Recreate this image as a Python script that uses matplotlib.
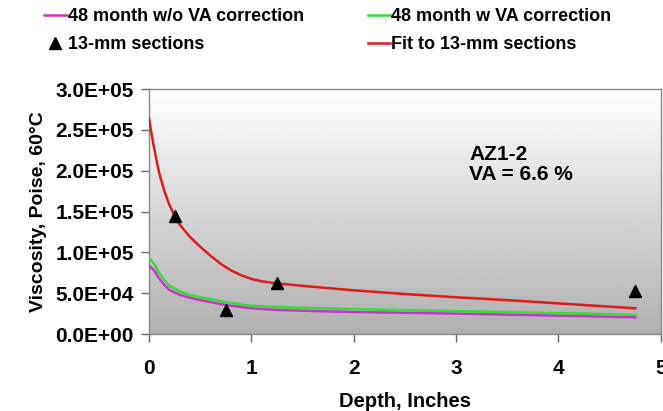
import numpy as np
import matplotlib.pyplot as plt
from matplotlib.lines import Line2D

plt.rcParams['font.family'] = ['Liberation Sans', 'DejaVu Sans']
plt.rcParams['font.weight'] = 'bold'

# 48 month w/o VA correction (magenta)
depth_wo = [0.0, 0.05, 0.1, 0.15, 0.2, 0.3, 0.4, 0.5, 0.75, 1.0, 1.25, 1.5, 2.0, 3.0, 4.0, 4.75]
visc_wo = [84000, 78000, 68000, 60000, 54000, 48000, 44500, 41500, 35500, 31500, 29500, 28500, 27000, 25000, 22500, 20500]

# 48 month w VA correction (green)
depth_w = [0.0, 0.05, 0.1, 0.15, 0.2, 0.3, 0.4, 0.5, 0.75, 1.0, 1.25, 1.5, 2.0, 3.0, 4.0, 4.75]
visc_w = [93000, 86000, 75000, 66000, 59000, 52000, 48000, 45000, 39000, 34500, 33000, 32000, 30500, 28000, 25500, 23500]

# fit to 13-mm sections (red)
depth_fit = [0.0, 0.025, 0.05, 0.075, 0.1, 0.15, 0.2, 0.25, 0.3, 0.4, 0.5, 0.6, 0.7, 0.8,
             0.9, 1.0, 1.1, 1.25, 1.5, 2.0, 2.5, 3.0, 3.5, 4.0, 4.5, 4.75]
visc_fit = [264000, 245000, 228000, 212000, 197000, 175000, 158000, 145000, 134000, 119000,
            107000, 96000, 86000, 78000, 72000, 67500, 64500, 62000, 59000, 53500, 49000,
            45000, 41500, 37500, 33500, 31500]

# 13-mm sections (triangles)
depth_sec = [0.25, 0.75, 1.25, 4.75]
visc_sec = [145000, 30000, 62000, 53000]

fig = plt.figure(figsize=(6.63, 4.11), dpi=100)
ax = fig.add_axes([0.2247, 0.1873, 0.772, 0.596])

# background gradient, white at top to grey at bottom
grad = np.linspace(1.0, 0.69, 256).reshape(-1, 1)
ax.imshow(grad, cmap='gray', vmin=0, vmax=1, aspect='auto',
          extent=[0, 5, 0, 300000], origin='upper', zorder=0)

ax.plot(depth_wo, visc_wo, color='#cc33cc', lw=1.8, zorder=3)
ax.plot(depth_w, visc_w, color='#33dd33', lw=1.8, zorder=3)
ax.plot(depth_fit, visc_fit, color='#e31a1a', lw=1.8, zorder=4)
ax.plot(depth_sec, visc_sec, '^', color='black', ms=9, ls='none', zorder=5)

ax.set_xlim(0, 5)
ax.set_ylim(0, 300000)
ax.set_xticks([0, 1, 2, 3, 4, 5])
ax.set_yticks(np.arange(0, 300001, 50000))
ax.set_yticklabels(['0.0E+00', '5.0E+04', '1.0E+05', '1.5E+05',
                    '2.0E+05', '2.5E+05', '3.0E+05'])
ax.tick_params(axis='both', labelsize=15, direction='out', length=6,
               color='#666666', width=1, pad=5)
ax.tick_params(axis='x', pad=12)
for s in ax.spines.values():
    s.set_color('#888888')
    s.set_linewidth(1)

ax.set_xlabel('Depth, Inches', fontsize=14.5, fontweight='bold', labelpad=10)
ax.set_ylabel('Viscosity, Poise, 60°C', fontsize=14, fontweight='bold', labelpad=6)

ax.text(3.13, 232000, 'AZ1-2\nVA = 6.6 %', fontsize=15, fontweight='bold',
        va='top', ha='left', linespacing=1.1)

handles = [Line2D([], [], color='#cc33cc', lw=1.8),
           Line2D([], [], marker='^', color='black', ls='none', ms=9),
           Line2D([], [], color='#33dd33', lw=1.8),
           Line2D([], [], color='#e31a1a', lw=1.8)]
labels = ['48 month w/o VA correction', '13-mm sections',
          '48 month w VA correction', 'Fit to 13-mm sections']
fig.legend(handles, labels, loc='upper left', bbox_to_anchor=(0.042, 1.02),
           ncol=2, frameon=False, fontsize=13, handlelength=1.25,
           handletextpad=0.05, columnspacing=3.55, labelspacing=0.6)

plt.savefig('out.png', dpi=100)
